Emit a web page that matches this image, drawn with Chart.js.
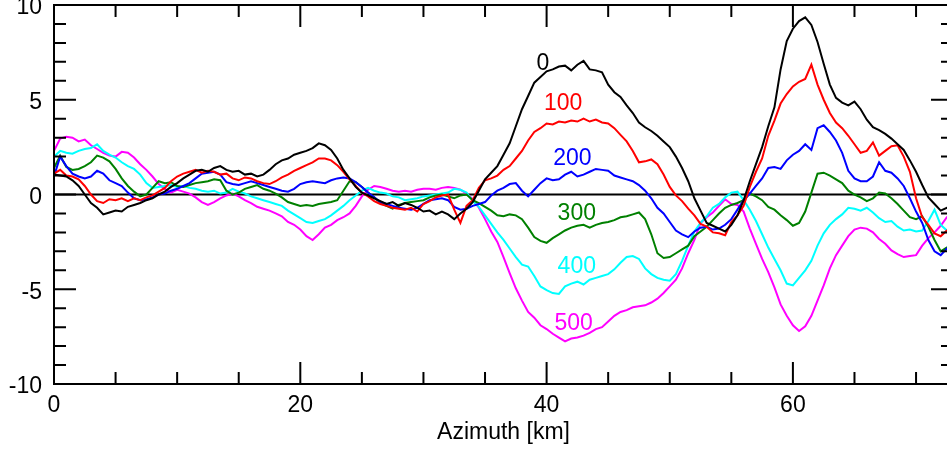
<!DOCTYPE html>
<html>
<head>
<meta charset="utf-8">
<title>Azimuth profiles</title>
<script src="https://cdn.jsdelivr.net/npm/chart.js@4.4.1/dist/chart.umd.min.js"></script>
<style>
  html, body { margin: 0; padding: 0; background: #fff; overflow: hidden; }
  canvas { display: block; }
</style>
</head>
<body>
<canvas id="profil" width="956" height="452"></canvas>
<script>
// Azimuth positions [km]
const azimuth = [
  0, 0.5, 1, 1.5, 2, 2.5, 3, 3.5, 4, 4.5,
  5, 5.5, 6, 6.5, 7, 7.5, 8, 8.5, 9, 9.5,
  10, 10.5, 11, 11.5, 12, 12.5, 13, 13.5, 14, 14.5,
  15, 15.5, 16, 16.5, 17, 17.5, 18, 18.5, 19, 19.5,
  20, 20.5, 21, 21.5, 22, 22.5, 23, 23.5, 24, 24.5,
  25, 25.5, 26, 26.5, 27, 27.5, 28, 28.5, 29, 29.5,
  30, 30.5, 31, 31.5, 32, 32.5, 33, 33.5, 34, 34.5,
  35, 35.5, 36, 36.5, 37, 37.5, 38, 38.5, 39, 39.5,
  40, 40.5, 41, 41.5, 42, 42.5, 43, 43.5, 44, 44.5,
  45, 45.5, 46, 46.5, 47, 47.5, 48, 48.5, 49, 49.5,
  50, 50.5, 51, 51.5, 52, 52.5, 53, 53.5, 54, 54.5,
  55, 55.5, 56, 56.5, 57, 57.5, 58, 58.5, 59, 59.5,
  60, 60.5, 61, 61.5, 62, 62.5, 63, 63.5, 64, 64.5,
  65, 65.5, 66, 66.5, 67, 67.5, 68, 68.5, 69, 69.5,
  70, 70.5, 71, 71.5, 72, 72.5, 73
];

const profil0 = [
  1.05, 1.0, 0.95, 0.75, 0.45, 0.0, -0.45, -0.7, -1.05, -0.95,
  -0.85, -0.9, -0.65, -0.55, -0.45, -0.3, -0.2, 0.0, 0.15, 0.4,
  0.6, 0.85, 1.05, 1.25, 1.3, 1.2, 1.4, 1.5, 1.3, 1.2,
  1.25, 1.05, 1.1, 0.95, 1.05, 1.3, 1.6, 1.8, 1.9, 2.1,
  2.2, 2.3, 2.45, 2.7, 2.6, 2.35, 1.9, 1.3, 0.85, 0.4,
  0.1, -0.05, -0.2, -0.35, -0.5, -0.4, -0.6, -0.45, -0.55, -0.7,
  -0.9, -0.85, -1.05, -0.9, -1.05, -1.3, -1.0, -0.75, -0.4, 0.2,
  0.8, 1.15, 1.5, 2.1, 2.7, 3.6, 4.5, 5.2, 5.9, 6.2,
  6.5, 6.6, 6.75, 6.8, 6.55, 6.85, 7.05, 6.6, 6.55, 6.45,
  5.8, 5.4, 5.15, 4.7, 4.3, 3.8, 3.55, 3.35, 3.1, 2.8,
  2.5, 2.0, 1.4, 0.7, -0.2, -0.85, -1.5, -1.65, -1.8, -1.95,
  -1.6, -1.1, -0.3, 0.7, 1.6, 2.5, 3.6, 4.6, 6.6, 8.1,
  8.75, 9.15, 9.35, 8.95, 8.05, 6.9, 5.8, 5.1, 4.85, 4.7,
  4.9, 4.5, 3.95, 3.55, 3.4, 3.2, 2.95, 2.65, 2.35, 1.8,
  1.2, 0.5, -0.15, -0.5, -0.85, -0.7, -0.75
];

const profil100 = [
  1.1, 1.3, 1.0, 0.95, 0.8, 0.45, 0.0, -0.35, -0.45, -0.25,
  -0.3, -0.2, -0.35, -0.2, -0.3, -0.15, -0.05, 0.15, 0.35, 0.7,
  0.95, 1.1, 1.2, 1.3, 1.15, 1.25, 1.2, 1.05, 1.1, 0.85,
  0.75, 0.9, 0.85, 0.7, 0.6, 0.55, 0.7, 0.9, 1.05, 1.25,
  1.4, 1.55, 1.7, 1.9, 1.9, 1.8, 1.55, 1.2, 0.8, 0.45,
  0.1, -0.1, -0.35, -0.5, -0.6, -0.7, -0.75, -0.8, -0.7, -0.9,
  -0.5, -0.35, -0.15, -0.05, 0.0, -0.8, -1.5, -0.6, -0.3, 0.35,
  0.75, 0.85, 1.0, 1.3, 1.5, 1.9, 2.3, 2.85, 3.3, 3.5,
  3.75, 3.7, 3.85, 3.8, 3.9, 3.85, 4.0, 3.85, 3.95, 3.8,
  3.75, 3.5, 3.15, 2.8, 2.3, 1.7, 1.75, 1.85, 1.6, 1.05,
  0.4, -0.05, -0.35, -0.75, -1.1, -1.55, -1.7, -2.0, -2.05, -2.15,
  -1.45, -1.1, -0.6, 0.4, 1.2, 1.9, 3.1, 3.9, 4.8, 5.3,
  5.7, 5.95, 6.1, 6.85, 5.8, 5.0, 4.3, 3.8, 3.5, 3.1,
  2.65, 2.2, 2.3, 2.75, 2.05, 2.3, 2.55, 2.6, 2.0, 1.2,
  -0.2, -1.2, -1.6, -2.05, -2.2, -1.9, -1.9
];

const profil200 = [
  0.95, 2.0, 1.5, 1.1, 0.95, 0.85, 0.95, 1.25, 1.1, 0.75,
  0.6, 0.45, 0.1, -0.2, -0.3, -0.25, -0.15, 0.0, 0.05, 0.2,
  0.3, 0.45, 0.6, 0.85, 1.1, 1.15, 1.2, 1.05, 0.65, 0.55,
  0.5, 0.6, 0.7, 0.6, 0.5, 0.4, 0.3, 0.2, 0.15, 0.3,
  0.55, 0.65, 0.7, 0.65, 0.6, 0.75, 0.85, 0.9, 0.85, 0.65,
  0.4, 0.1, -0.15, -0.4, -0.5, -0.6, -0.7, -0.75, -0.8, -0.7,
  -0.5, -0.3, -0.25, -0.2, -0.3, -0.65, -0.8, -0.75, -0.6, -0.5,
  -0.4, -0.05, 0.2, 0.35, 0.55, 0.6, 0.2, -0.1, 0.25, 0.6,
  0.85, 0.75, 0.8, 1.05, 1.2, 0.95, 1.05, 1.2, 1.35, 1.3,
  1.25, 1.0, 0.9, 0.8, 0.7, 0.5, 0.2, -0.2, -0.7, -1.0,
  -1.45, -1.9, -2.1, -2.25, -1.95, -1.75, -1.7, -1.85, -1.8, -1.6,
  -1.3, -0.8, -0.3, 0.05, 0.45, 0.85, 1.4, 1.45, 1.35, 1.8,
  2.1, 2.3, 2.65, 2.35, 3.5, 3.65, 3.3, 2.85, 2.2, 1.25,
  0.85, 0.7, 0.7, 0.95, 1.7, 1.25, 1.15, 0.85, 0.45, -0.2,
  -0.9, -1.5, -2.4, -3.0, -3.2, -2.85, -2.9
];

const profil300 = [
  1.4, 2.05, 1.45, 1.3, 1.35, 1.5, 1.7, 2.05, 1.95, 1.75,
  1.35, 0.85, 0.45, 0.15, -0.1, 0.0, 0.35, 0.7, 0.6, 0.65,
  0.45, 0.4, 0.5, 0.6, 0.65, 0.7, 0.8, 0.75, 0.2, 0.0,
  0.1, 0.3, 0.4, 0.5, 0.3, 0.2, 0.05, -0.15, -0.4, -0.5,
  -0.6, -0.55, -0.6, -0.5, -0.45, -0.4, -0.3, 0.2, 0.7, 0.65,
  0.4, 0.1, -0.15, -0.45, -0.6, -0.75, -0.55, -0.45, -0.4, -0.35,
  -0.3, -0.15, -0.05, 0.0, -0.1, -0.2, -0.05, 0.0, -0.3, -0.45,
  -0.65, -0.85, -1.1, -1.15, -1.05, -1.1, -1.3, -1.75, -2.25, -2.45,
  -2.55, -2.3, -2.1, -1.9, -1.75, -1.65, -1.6, -1.75, -1.6, -1.5,
  -1.45, -1.35, -1.2, -1.15, -1.05, -0.95, -1.3, -2.1, -3.1, -3.35,
  -3.3, -3.1, -2.9, -2.7, -2.2, -1.95, -1.7, -1.35, -1.0, -0.7,
  -0.55, -0.45, -0.3, 0.05, -0.1, -0.3, -0.65, -0.8, -1.1, -1.35,
  -1.65, -1.5, -0.9, 0.1, 1.1, 1.15, 1.0, 0.8, 0.6, 0.2,
  0.0, -0.15, -0.35, -0.2, 0.1, 0.05, -0.2, -0.5, -0.85, -1.2,
  -1.3, -1.15, -1.7, -2.4, -3.0, -2.8, -2.8
];

const profil400 = [
  2.0, 2.3, 2.2, 2.15, 2.3, 2.4, 2.45, 2.65, 2.3, 2.1,
  1.95, 1.7, 1.5, 1.35, 1.05, 0.6, 0.35, 0.4, 0.45, 0.5,
  0.4, 0.45, 0.35, 0.3, 0.2, 0.15, 0.2, 0.05, 0.1, 0.3,
  0.15, 0.05, -0.1, -0.2, -0.3, -0.4, -0.5, -0.6, -0.85, -1.05,
  -1.25, -1.45, -1.5, -1.4, -1.3, -1.1, -0.85, -0.6, -0.3, -0.05,
  0.2, 0.35, 0.2, 0.1, 0.05, -0.1, -0.15, -0.3, -0.25, -0.2,
  -0.1, -0.05, 0.0, 0.05, 0.1, 0.3, 0.25, 0.1, -0.35, -0.65,
  -1.1, -1.55, -2.0, -2.4, -2.85, -3.3, -3.7, -3.8, -4.3, -4.85,
  -5.05, -5.2, -5.25, -4.85, -4.7, -4.6, -4.75, -4.5, -4.4, -4.3,
  -4.2, -3.95, -3.6, -3.3, -3.25, -3.4, -3.9, -4.2, -4.4, -4.5,
  -4.55, -4.2, -3.5, -2.7, -1.95, -1.5, -1.15, -0.7, -0.5, -0.15,
  0.1, 0.15, -0.3, -0.8, -1.4, -2.1, -2.8, -3.4, -4.0, -4.7,
  -4.8, -4.4, -4.0, -3.5, -2.7, -2.05, -1.6, -1.3, -1.05, -0.7,
  -0.75, -0.85, -0.7, -0.95, -1.25, -1.45, -1.4, -1.7, -1.9, -1.85,
  -1.95, -1.9, -1.4, -0.8, -1.6, -1.9, -1.9
];

const profil500 = [
  2.3, 2.95, 3.05, 3.0, 2.8, 2.9, 2.6, 2.4, 2.2, 2.05,
  2.0, 2.25, 2.2, 1.95, 1.6, 1.3, 0.95, 0.55, 0.3, 0.1,
  0.25, 0.15, 0.05, -0.15, -0.4, -0.55, -0.4, -0.2, -0.05, 0.05,
  -0.1, -0.3, -0.45, -0.65, -0.75, -0.85, -1.0, -1.15, -1.45, -1.6,
  -1.85, -2.2, -2.4, -2.1, -1.75, -1.6, -1.35, -1.2, -1.0, -0.6,
  -0.1, 0.25, 0.45, 0.4, 0.3, 0.2, 0.15, 0.2, 0.15, 0.25,
  0.3, 0.3, 0.25, 0.35, 0.4, 0.35, 0.25, 0.05, -0.25, -0.7,
  -1.3, -1.95, -2.5, -3.3, -4.15, -4.95, -5.6, -6.2, -6.5, -6.9,
  -7.1, -7.35, -7.55, -7.75, -7.6, -7.55, -7.45, -7.3, -7.1, -7.0,
  -6.7, -6.4, -6.2, -6.1, -5.95, -5.9, -5.85, -5.7, -5.5, -5.2,
  -4.85, -4.5, -3.9, -3.1, -2.4, -1.5, -1.2, -0.95, -0.6, -0.25,
  -0.5, -0.55, -0.9, -1.8, -2.6, -3.4, -4.1, -4.9, -5.8, -6.4,
  -6.9, -7.2, -6.95, -6.4, -5.6, -4.8, -3.9, -3.2, -2.7, -2.2,
  -1.85, -1.75, -1.8, -2.0, -2.35, -2.6, -2.95, -3.15, -3.3, -3.25,
  -3.2, -2.7, -2.3, -2.0, -1.65, -1.2, -1.0
];

const seriesNames = ["0", "100", "200", "300", "400", "500"];
const seriesValues = [profil0, profil100, profil200, profil300, profil400, profil500];
const seriesColors = ["#000000", "#ff0000", "#0000ff", "#008000", "#00ffff", "#ff00ff"];

// where each curve's name is written, in data units (km, value)
const nameAtKm = [39.7, 41.35, 42.1, 42.45, 42.45, 42.2];
const nameAtValue = [6.9, 4.8, 1.9, -1.0, -3.8, -6.8];

const xMin = 0, xMax = 73;
const yMin = -10, yMax = 10;
const FONT = "'Liberation Sans', Arial, Helvetica, sans-serif";
const FONT_SIZE = 23;

// box around the plot, inward ticks on all four sides, the zero line and curve names
const axisBox = {
  id: 'axisBox',
  beforeDatasetsDraw(chart) {
    const { ctx, chartArea: a, scales: { y } } = chart;
    const y0 = y.getPixelForValue(0);
    ctx.save();
    ctx.strokeStyle = '#000';
    ctx.lineWidth = 2;
    ctx.beginPath();
    ctx.moveTo(a.left, y0);
    ctx.lineTo(a.right, y0);
    ctx.stroke();
    ctx.restore();
  },
  afterDatasetsDraw(chart) {
    const { ctx, chartArea: a, scales: { x, y } } = chart;
    ctx.save();
    ctx.strokeStyle = '#000';
    ctx.lineWidth = 2;
    ctx.strokeRect(a.left, a.top, a.right - a.left, a.bottom - a.top);

    ctx.beginPath();
    for (let v = xMin; v <= xMax; v += 5) {
      const px = x.getPixelForValue(v);
      const len = v % 20 === 0 ? 22 : 12;
      ctx.moveTo(px, a.bottom);
      ctx.lineTo(px, a.bottom - len);
      ctx.moveTo(px, a.top);
      ctx.lineTo(px, a.top + len);
    }
    for (let v = yMin; v <= yMax; v += 1) {
      const py = y.getPixelForValue(v);
      const len = v % 5 === 0 ? 22 : 12;
      ctx.moveTo(a.left, py);
      ctx.lineTo(a.left + len, py);
      ctx.moveTo(a.right, py);
      ctx.lineTo(a.right - len, py);
    }
    ctx.stroke();

    ctx.font = FONT_SIZE + 'px ' + FONT;
    ctx.textAlign = 'center';
    ctx.textBaseline = 'middle';
    seriesNames.forEach((name, i) => {
      ctx.fillStyle = seriesColors[i];
      ctx.fillText(name, x.getPixelForValue(nameAtKm[i]), y.getPixelForValue(nameAtValue[i]));
    });
    ctx.restore();
  }
};

new Chart(document.getElementById('profil'), {
  type: 'line',
  data: {
    datasets: seriesNames.map((name, i) => ({
      label: name,
      data: azimuth.map((km, j) => ({ x: km, y: seriesValues[i][j] })),
      borderColor: seriesColors[i],
      borderWidth: 2,
      pointRadius: 0,
      tension: 0,
      fill: false
    }))
  },
  options: {
    responsive: false,
    animation: false,
    devicePixelRatio: 1,
    layout: { padding: { top: 5, right: 3, bottom: 0, left: 0 } },
    plugins: { legend: { display: false }, tooltip: { enabled: false } },
    scales: {
      x: {
        type: 'linear',
        min: xMin,
        max: xMax,
        grid: { display: false, drawTicks: false },
        border: { display: false },
        ticks: {
          stepSize: 20,
          includeBounds: false,
          autoSkip: false,
          maxRotation: 0,
          padding: 8,
          color: '#000',
          font: { family: FONT, size: FONT_SIZE }
        },
        title: {
          display: true,
          text: 'Azimuth [km]',
          color: '#000',
          font: { family: FONT, size: FONT_SIZE },
          padding: { top: 0, bottom: 6 }
        },
        afterFit(scale) {
          scale.height = 68;
          scale.paddingLeft = 0;
          scale.paddingRight = 0;
        }
      },
      y: {
        min: yMin,
        max: yMax,
        grid: { display: false, drawTicks: false },
        border: { display: false },
        ticks: {
          stepSize: 5,
          padding: 12,
          labelOffset: 3,
          color: '#000',
          font: { family: FONT, size: FONT_SIZE }
        },
        afterFit(scale) {
          scale.width = 54;
          scale.paddingTop = 0;
          scale.paddingBottom = 0;
        }
      }
    }
  },
  plugins: [axisBox]
});
</script>
</body>
</html>
